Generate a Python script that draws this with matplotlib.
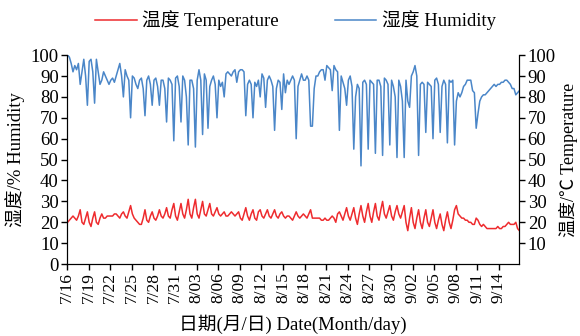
import numpy as np
import pandas as pd
import matplotlib
matplotlib.use('Agg')
import matplotlib.pyplot as plt

plt.rcParams['font.family'] = ['Liberation Serif', 'Noto Sans CJK SC']
plt.rcParams['axes.unicode_minus'] = False

# 6-hourly readings, one row per day starting 7/16
START = '2020-07-16 02:00'
humidity = [
    100, 99, 96, 92,   95, 93, 96, 86,   92, 98, 90, 76,   97, 98, 92, 77,
    98, 92, 86, 88,    92, 90, 88, 86,   88, 89, 87, 90,   93, 96, 90, 80,
    93, 90, 88, 70,    90, 89, 86, 84,   88, 89, 84, 71,   88, 90, 86, 76,
    88, 89, 85, 76,    88, 88, 84, 68,   89, 88, 86, 59,   89, 90, 85, 68,
    90, 88, 80, 57,    88, 88, 84, 56,   88, 93, 88, 62,   91, 88, 65, 85,
    88, 90, 86, 70,    88, 85, 87, 80,   91, 92, 91, 90,   92, 93, 87, 92,
    93, 93, 92, 71,    86, 88, 86, 70,   87, 85, 88, 80,   91, 89, 75, 88,
    90, 88, 85, 64,    84, 88, 87, 74,   91, 82, 88, 86,   88, 90, 88, 60,
    85, 88, 91, 88,    88, 90, 88, 66,   66, 84, 90, 90,   92, 93, 93, 88,
    95, 94, 93, 83,    95, 93, 92, 64,   90, 87, 84, 76,   88, 90, 85, 55,
    80, 86, 84, 47,    87, 88, 86, 55,   88, 87, 86, 53,   88, 88, 85, 52,
    89, 88, 86, 57,    88, 85, 80, 51,   88, 85, 78, 51,   88, 78, 75, 90,
    92, 95, 90, 52,    86, 87, 86, 63,   87, 86, 85, 60,   88, 89, 86, 63,
    85, 88, 86, 58,    88, 87, 88, 57,   78, 82, 80, 82,   85, 86, 88, 88,
    88, 83, 82, 65,    72, 78, 80, 81,   81, 82, 83, 84,   85, 86, 85, 86,
    86, 87, 87, 88,    88, 87, 86, 84,   84, 81, 82, 83,
]
temperature = [
    20, 21, 22, 23,   22, 21, 23, 26,   20, 19, 22, 25,   20, 18, 22, 25,
    20, 19, 22, 24,   22, 22, 23, 23,   23, 23, 24, 24,   23, 22, 24, 25,
    23, 22, 25, 28,   24, 22, 21, 20,   19, 19, 22, 26,   21, 20, 23, 25,
    22, 21, 23, 26,   23, 22, 24, 27,   23, 22, 26, 29,   23, 21, 25, 29,
    24, 22, 26, 31,   24, 22, 27, 31,   24, 22, 26, 30,   24, 23, 26, 29,
    24, 23, 25, 27,   24, 23, 24, 25,   23, 23, 24, 25,   24, 23, 24, 25,
    22, 21, 24, 27,   23, 21, 24, 26,   22, 21, 25, 26,   23, 22, 24, 26,
    23, 22, 24, 26,   23, 22, 24, 25,   23, 22, 23, 23,   22, 21, 23, 25,
    23, 22, 23, 24,   23, 22, 24, 26,   22, 22, 22, 22,   22, 21, 21, 22,
    21, 21, 22, 23,   22, 20, 24, 25,   23, 21, 24, 27,   23, 21, 24, 27,
    22, 19, 24, 28,   23, 20, 25, 29,   23, 20, 25, 29,   23, 21, 26, 30,
    24, 22, 25, 28,   23, 21, 25, 28,   24, 22, 25, 28,   20, 16, 22, 27,
    20, 17, 22, 26,   20, 17, 22, 26,   20, 18, 22, 26,   20, 17, 21, 24,
    19, 16, 21, 25,   20, 17, 21, 26,   28, 24, 23, 22,   22, 21, 21, 20,
    20, 19, 19, 22,   21, 19, 18, 19,   18, 17, 17, 17,   17, 17, 17, 18,
    17, 17, 18, 18,   19, 20, 19, 19,   19, 20, 17, 16,
]
tick_dates = pd.date_range('2020-07-16', '2020-09-14', freq='3D')
tick_labels = [f'{d.month}/{d.day:02d}' for d in tick_dates]

times = pd.date_range(START, periods=len(humidity), freq='6h')

BLUE = '#4a86c8'
RED = '#ee2b2e'
FS = 13.5

fig = plt.figure(figsize=(5.8, 3.36), dpi=100)
ax = fig.add_axes([0.1155, 0.214, 0.780, 0.622])
ax2 = ax.twinx()

l_h, = ax.plot(times, humidity, color=BLUE, lw=1.1)
l_t, = ax2.plot(times, temperature, color=RED, lw=1.1)

for a in (ax, ax2):
    a.set_ylim(0, 100)
    a.spines['top'].set_visible(False)
    a.tick_params(direction='out', length=4, width=1, labelsize=FS, pad=2)
ax.tick_params(axis='x', labelsize=12.5)
ax.set_xlim(pd.Timestamp('2020-07-16'), times[-1])
ax.set_yticks(np.arange(0, 101, 10))
ax2.set_yticks(np.arange(10, 101, 10))
ax.set_xticks(tick_dates)
ax.set_xticklabels(tick_labels, rotation=90)

ax.set_ylabel('湿度/% Humidity', fontsize=FS, labelpad=4)
ax2.set_ylabel('温度/℃ Temperature', fontsize=13, labelpad=2)
ax.set_xlabel('日期(月/日) Date(Month/day)', fontsize=FS, labelpad=8)

fig.legend([l_t, l_h], ['温度 Temperature', '湿度 Humidity'], loc='center',
           bbox_to_anchor=(0.51, 0.94), ncol=2, frameon=False, fontsize=FS,
           handlelength=2.2, columnspacing=3.0, handletextpad=0.3)

fig.savefig('out.png', dpi=100)
